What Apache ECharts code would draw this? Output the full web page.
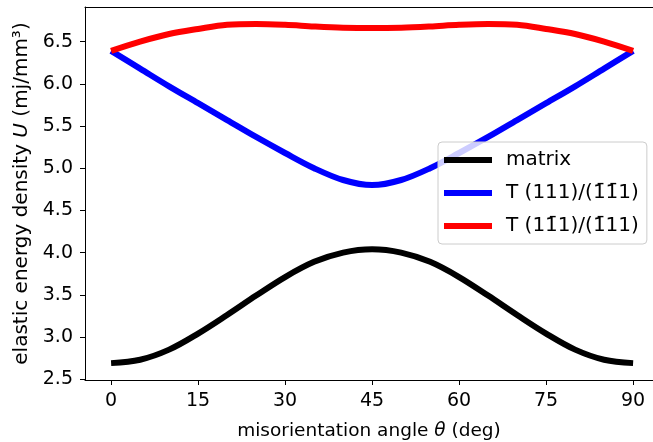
<!DOCTYPE html>
<html>
<head>
<meta charset="utf-8">
<script src="https://cdn.jsdelivr.net/npm/echarts@6/dist/echarts.min.js"></script>
<style>
  html, body { margin: 0; padding: 0; background: #fff; overflow: hidden; }
  #chart { width: 653px; height: 442px; }
</style>
</head>
<body>
<div id="chart"></div>
<script>
// misorientation angle (deg)
const angles = [0, 5, 10, 15, 20, 25, 30, 35, 40, 45, 50, 55, 60, 65, 70, 75, 80, 85, 90];

// elastic energy density U (mj/mm^3)
const matrixU = [2.69, 2.73, 2.85, 3.04, 3.26, 3.49, 3.71, 3.89, 4.00, 4.04,
                 4.00, 3.89, 3.71, 3.49, 3.26, 3.04, 2.85, 2.73, 2.69];
const twin111U = [6.39, 6.18, 5.97, 5.77, 5.57, 5.37, 5.18, 5.00, 4.86, 4.80,
                  4.86, 5.00, 5.18, 5.37, 5.57, 5.77, 5.97, 6.18, 6.39];
const twin1b1U = [6.39, 6.50, 6.59, 6.65, 6.70, 6.71, 6.70, 6.68, 6.665, 6.66,
                  6.665, 6.68, 6.70, 6.71, 6.70, 6.65, 6.59, 6.50, 6.39];

const xTicks = [0, 15, 30, 45, 60, 75, 90];
const yTicks = [2.5, 3.0, 3.5, 4.0, 4.5, 5.0, 5.5, 6.0, 6.5];

const seriesNames = ['matrix', 'T (111)/(1\u03041\u03041)', 'T (11\u03041)/(1\u030411)'];
const seriesColors = ['#000000', '#0000ff', '#ff0000'];
const seriesValues = [matrixU, twin111U, twin1b1U];

const FONT = 'DejaVu Sans';

const chart = echarts.init(document.getElementById('chart'), null, { renderer: 'canvas' });

chart.setOption({
  animation: false,
  backgroundColor: '#ffffff',
  grid: { left: 85, top: 7, right: 0, bottom: 62, containLabel: false, outerBoundsMode: 'none' },
  legend: {
    left: 438, top: 142,
    orient: 'vertical',
    data: seriesNames.map(n => ({ name: n, icon: 'rect' })),
    itemWidth: 48, itemHeight: 6, itemGap: 13,
    padding: [8, 8, 8, 6],
    backgroundColor: 'rgba(255,255,255,0.8)',
    borderColor: '#cccccc', borderWidth: 1, borderRadius: 4,
    textStyle: { fontFamily: FONT, fontSize: 20, color: '#000', padding: [0, 0, 0, 9] }
  },
  xAxis: [{
    type: 'value', min: -4.5, max: 93.43,
    name: '{t|misorientation angle }{i|θ}{t| (deg)}',
    nameLocation: 'middle', nameGap: 42,
    nameTextStyle: {
      rich: {
        t: { fontFamily: FONT, fontSize: 18.5, color: '#000' },
        i: { fontFamily: FONT, fontSize: 18.5, color: '#000', fontStyle: 'italic' }
      }
    },
    axisLine: { show: true, onZero: false, lineStyle: { color: '#000', width: 1 } },
    axisTick: { show: true, length: 5, lineStyle: { color: '#000' }, customValues: xTicks },
    axisLabel: { fontFamily: FONT, fontSize: 19, color: '#000', margin: 12, customValues: xTicks },
    splitLine: { show: false }
  }, {
    // top frame line
    type: 'value', position: 'top', min: -4.5, max: 93.43,
    axisLine: { show: true, onZero: false, lineStyle: { color: '#000', width: 1 } },
    axisTick: { show: false }, axisLabel: { show: false }, splitLine: { show: false }
  }],
  yAxis: {
    type: 'value', min: 2.49, max: 6.91,
    name: '{t|elastic energy density }{i|U}{t| (mj/mm³)}',
    nameLocation: 'middle', nameGap: 52,
    nameTextStyle: {
      rich: {
        t: { fontFamily: FONT, fontSize: 20, color: '#000' },
        i: { fontFamily: FONT, fontSize: 20, color: '#000', fontStyle: 'italic' }
      }
    },
    axisLine: { show: true, onZero: false, lineStyle: { color: '#000', width: 1 } },
    axisTick: { show: true, length: 5, lineStyle: { color: '#000' }, customValues: yTicks },
    axisLabel: {
      fontFamily: FONT, fontSize: 19, color: '#000', margin: 12,
      customValues: yTicks, formatter: v => v.toFixed(1)
    },
    splitLine: { show: false }
  },
  series: seriesNames.map((name, k) => ({
    name: name,
    type: 'line',
    xAxisIndex: 0,
    data: angles.map((a, i) => [a, seriesValues[k][i]]),
    smooth: 0.35,
    showSymbol: false,
    lineStyle: { color: seriesColors[k], width: 6, cap: 'butt' },
    itemStyle: { color: seriesColors[k] }
  }))
});
</script>
</body>
</html>
